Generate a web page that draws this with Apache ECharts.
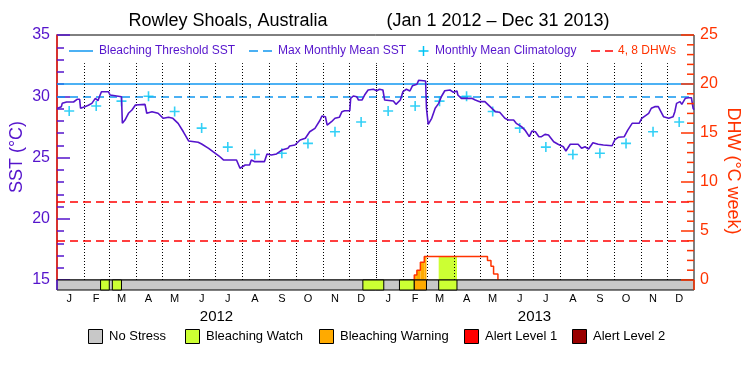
<!DOCTYPE html>
<html>
<head>
<meta charset="utf-8">
<script src="https://cdn.jsdelivr.net/npm/echarts@6/dist/echarts.min.js"></script>
<style>
  html, body { margin: 0; background: #fff; }
  #chart { width: 750px; height: 375px; }
</style>
</head>
<body>
<div id="chart"></div>
<script>
// months Jan 2012 .. Dec 2013 (x axis is in days from Jan 1 2012)
const monthLetters = ['J', 'F', 'M', 'A', 'M', 'J', 'J', 'A', 'S', 'O', 'N', 'D'];
const monthLengths = [31, 29, 31, 30, 31, 30, 31, 31, 30, 31, 30, 31,
                      31, 28, 31, 30, 31, 30, 31, 31, 30, 31, 30, 31];
const yearLabels = ['2012', '2013'];

// daily SST
const sstDays = [0, 5, 6, 11, 19, 23, 26, 27, 32, 36, 40, 44, 47, 49, 51, 59, 61, 63, 74, 75,
  78, 82, 86, 90, 101, 103, 109, 116, 122, 128, 133, 139, 145, 151, 162, 166, 174, 179, 186,
  191, 206, 210, 216, 221, 223, 227, 238, 241, 246, 252, 258, 265, 267, 273, 279, 285, 290, 296,
  302, 304, 308, 310, 315, 319, 324, 327, 330, 336, 337, 340, 344, 346, 350, 353, 357, 363,
  367, 370, 374, 376, 386, 389, 394, 397, 401, 405, 408, 413, 415, 423, 424, 426, 430, 434,
  438, 441, 445, 451, 455, 459, 460, 464, 470, 476, 480, 485, 491, 497, 503, 508, 514, 518,
  524, 527, 533, 537, 542, 545, 549, 553, 556, 560, 564, 570, 575, 581, 584, 589, 598, 602,
  606, 610, 615, 621, 627, 637, 640, 644, 651, 655, 660, 668, 671, 679, 682, 686, 690, 693,
  696, 702, 707, 709, 711, 715, 717, 721, 725, 728, 730, 731];
const sstValues = [29.0, 29.15, 29.42, 29.53, 29.53, 29.75, 29.75, 29.02, 29.15, 29.26, 29.42,
  29.83, 29.64, 30.02, 30.37, 30.37, 30.1, 29.96, 29.96, 27.79, 28.06, 28.61, 28.88, 29.29,
  29.34, 28.61, 28.74, 28.61, 28.2, 28.28, 28.2, 27.79, 27.1, 26.35, 26.24, 26.1, 25.75, 25.48,
  25.12, 24.8, 24.8, 24.12, 24.39, 24.39, 24.8, 24.66, 24.66, 25.29, 25.2, 25.29, 25.61, 25.75,
  25.94, 26.02, 26.43, 26.57, 27.1, 27.38, 28.06, 28.39, 28.33, 27.65, 27.92, 28.2, 28.28,
  28.74, 28.82, 28.82, 29.83, 30.02, 29.96, 29.69, 29.69, 30.1, 30.51, 30.57, 30.45, 30.57,
  30.51, 29.69, 29.61, 29.34, 29.69, 30.37, 30.57, 30.43, 30.86, 30.98, 31.3, 31.24, 29.02,
  27.71, 28.2, 29.02, 29.42, 29.96, 30.45, 30.51, 30.32, 30.43, 30.1, 29.83, 29.83, 29.83,
  29.69, 29.56, 29.56, 29.15, 28.74, 28.69, 28.2, 28.06, 28.06, 27.79, 27.52, 27.24, 26.7,
  27.16, 27.1, 26.7, 26.7, 26.89, 26.84, 26.29, 26.08, 25.88, 25.53, 26.08, 26.08, 25.75,
  25.88, 25.69, 26.21, 26.08, 26.02, 25.96, 26.43, 26.65, 26.7, 27.24, 27.79, 27.79, 28.2,
  28.61, 29.02, 29.15, 29.15, 28.74, 28.33, 28.2, 28.33, 28.74, 29.42, 29.56, 29.34, 29.83,
  29.88, 29.88, 29.02, 28.9];

// monthly mean climatology, Jan..Dec
const climatology = [28.8, 29.2, 29.6, 30.0, 28.75, 27.4, 25.85, 25.25, 25.35, 26.15, 27.1, 27.9];

const bleachingThreshold = 31.0;
const maxMonthlyMean = 30.0;
const dhwLines = [4, 8];

// degree heating weeks (step values, each holds until the next day)
const dhwDays = [410, 410, 413, 417, 421.5, 494, 498, 501, 506];
const dhwValues = [0, 0.5, 1.0, 1.8, 2.4, 2.0, 1.4, 0.6, 0];

// stress level bar: first entry is the whole range
const stressStart = [0, 50, 63.5, 351, 393, 410, 438];
const stressEnd = [731, 60, 74, 375, 410, 424, 459];
const stressLevel = [0, 1, 1, 1, 1, 2, 1];

const stressNames = ['No Stress', 'Bleaching Watch', 'Bleaching Warning', 'Alert Level 1', 'Alert Level 2'];
const stressColors = ['#c8c8c8', '#ccff33', '#ffaa00', '#ff0000', '#990000'];

const purple = '#5514cc';
const orange = '#ff3300';
const blue = '#1197f0';
const cyan = '#00c4f4';
const FONT = '"Liberation Sans", Arial, sans-serif';

const monthStarts = [];
let acc = 0;
monthLengths.forEach(n => { monthStarts.push(acc); acc += n; });
const totalDays = acc;
const monthMids = monthStarts.map(s => s + 14);
const yearMids = [183, 548];

// tick values of the DHW axis (every 1, long every 5)
const dhwTicks = [];
for (let v = 0; v <= 25; v++) dhwTicks.push([v]);

function nearestIndex(arr, v) {
  let best = 0;
  arr.forEach((a, i) => { if (Math.abs(a - v) < Math.abs(arr[best] - v)) best = i; });
  return best;
}

function dhwAt(d) {
  let v = 0;
  for (let i = 0; i < dhwDays.length; i++) if (dhwDays[i] <= d) v = dhwValues[i];
  return v;
}

const chart = echarts.init(document.getElementById('chart'));

const sstData = sstDays.map((d, i) => [d, sstValues[i]]);
const climData = monthMids.map((d, i) => [d, climatology[i % 12]]);
const dhwData = dhwDays.map((d, i) => [d, dhwValues[i]]);
const stressData = stressStart.map((s, i) => [s, stressEnd[i], stressLevel[i]]);
const fillData = stressData.filter(s => s[2] > 0);

const monthLines = monthStarts.slice(1).map((d, i) => [
  { coord: [d, 15], lineStyle: { color: '#000', width: 1, type: i === 11 ? [1, 1] : [1, 2] } },
  { coord: [d, 32.7] }
]);

function renderStress(params, api) {
  const a = api.coord([api.value(0), 15]);
  const b = api.coord([api.value(1), 15]);
  const lvl = api.value(2);
  const children = [{
    type: 'rect',
    shape: { x: a[0], y: a[1], width: b[0] - a[0], height: 10 },
    style: { fill: stressColors[lvl], stroke: '#000', lineWidth: 1 }
  }];
  if (params.dataIndex === 0) {
    children.push({ type: 'line', shape: { x1: a[0], y1: a[1], x2: a[0], y2: a[1] + 10 }, style: { stroke: purple, lineWidth: 1.5 } });
    children.push({ type: 'line', shape: { x1: b[0], y1: b[1], x2: b[0], y2: b[1] + 10 }, style: { stroke: orange, lineWidth: 1.5 } });
  }
  return { type: 'group', children };
}

function renderFill(params, api) {
  const a = api.value(0), b = api.value(1), lvl = api.value(2);
  const cuts = [a].concat(dhwDays.filter(d => d > a && d < b), [b]);
  const children = [];
  for (let i = 0; i < cuts.length - 1; i++) {
    const v = dhwAt(cuts[i]);
    if (v <= 0) continue;
    const p0 = api.coord([cuts[i], v]);
    const p1 = api.coord([cuts[i + 1], 0]);
    children.push({
      type: 'rect',
      shape: { x: p0[0], y: p0[1], width: p1[0] - p0[0], height: p1[1] - p0[1] },
      style: { fill: stressColors[lvl] }
    });
  }
  return { type: 'group', children };
}

// inside ticks of the right axis
function renderRightTick(params, api) {
  const v = api.value(0);
  const p = api.coord([totalDays, v]);
  const len = v % 5 === 0 ? 13 : 7;
  return {
    type: 'line',
    shape: { x1: p[0] - len, y1: p[1], x2: p[0], y2: p[1] },
    style: { stroke: orange, lineWidth: 1.5 }
  };
}

const txt = (x, y, text, color, size, extra) => Object.assign({
  type: 'text', x, y,
  style: { text, fill: color, font: size + 'px ' + FONT, align: 'left', verticalAlign: 'middle' }
}, extra || {});
const seg = (x1, y1, x2, y2, color, dash) => ({
  type: 'line', shape: { x1, y1, x2, y2 },
  style: { stroke: color, lineWidth: 1.5, lineDash: dash || null }
});

const legendY = 51;
const bottomY = 336;
const boxX = [88, 185, 319, 464, 572];

const graphic = [
  txt(228, 21, 'Rowley Shoals, Australia', '#000', 18, {}),
  txt(498, 21, '(Jan 1 2012 – Dec 31 2013)', '#000', 18, {}),
  seg(69, legendY, 93, legendY, blue),
  txt(99, legendY, 'Bleaching Threshold SST', purple, 12),
  seg(249, legendY, 272, legendY, blue, [9, 5]),
  txt(278, legendY, 'Max Monthly Mean SST', purple, 12),
  seg(418.5, legendY, 428.5, legendY, cyan),
  seg(423.5, legendY - 5, 423.5, legendY + 5, cyan),
  txt(435, legendY, 'Monthly Mean Climatology', purple, 12),
  seg(591, legendY, 613, legendY, '#ff0000', [9, 5]),
  txt(618, legendY, '4, 8 DHWs', orange, 12),
  txt(17, 157, 'SST (°C)', purple, 18, { rotation: Math.PI / 2 }),
  txt(733, 171, 'DHW (°C week)', orange, 18, { rotation: -Math.PI / 2 })
];
graphic[0].style.align = 'center';
graphic[1].style.align = 'center';
graphic[graphic.length - 2].style.align = 'center';
graphic[graphic.length - 1].style.align = 'center';

stressNames.forEach((name, i) => {
  graphic.push({
    type: 'rect', shape: { x: boxX[i] + 0.5, y: bottomY - 7 + 0.5, width: 14, height: 14 },
    style: { fill: stressColors[i], stroke: '#000', lineWidth: 1 }
  });
  graphic.push(txt(boxX[i] + 21, bottomY, name, '#000', 13));
});

chart.setOption({
  animation: false,
  backgroundColor: '#fff',
  textStyle: { fontFamily: FONT },
  grid: { left: 57, right: 56, top: 35, bottom: 95, show: true, borderColor: '#000', borderWidth: 1 },
  xAxis: [
    {
      type: 'value', min: 0, max: totalDays,
      axisLine: { show: false }, axisTick: { show: false }, splitLine: { show: false },
      axisLabel: {
        customValues: monthMids, margin: 13, fontSize: 11, color: '#000',
        formatter: v => monthLetters[nearestIndex(monthMids, v) % 12]
      }
    },
    {
      type: 'value', min: 0, max: totalDays, position: 'bottom',
      axisLine: { show: false }, axisTick: { show: false }, splitLine: { show: false },
      axisLabel: {
        customValues: yearMids, margin: 29, fontSize: 15, color: '#000',
        formatter: v => yearLabels[nearestIndex(yearMids, v)]
      }
    }
  ],
  yAxis: [
    {
      type: 'value', min: 15, max: 35, interval: 5, position: 'left',
      axisLine: { show: true, lineStyle: { color: purple, width: 1.5 } },
      axisTick: { show: true, inside: true, length: 13, lineStyle: { color: purple, width: 1.5 } },
      axisLabel: { color: purple, fontSize: 16, margin: 7 },
      splitLine: { show: false }
    },
    {
      type: 'value', min: 0, max: 25, interval: 5, position: 'right',
      axisLine: { show: true, lineStyle: { color: orange, width: 1.5 } },
      axisTick: { show: false },
      axisLabel: { color: orange, fontSize: 16, margin: 6 },
      splitLine: { show: false }
    },
    {
      // short ticks of the SST axis
      type: 'value', min: 15, max: 35, interval: 1, position: 'left', offset: 0,
      axisLine: { show: false },
      axisTick: { show: true, inside: true, length: 7, lineStyle: { color: purple, width: 1.5 } },
      axisLabel: { show: false },
      splitLine: { show: false }
    }
  ],
  graphic,
  series: [
    {
      name: 'DHW fill', type: 'custom', xAxisIndex: 0, yAxisIndex: 1,
      renderItem: renderFill, data: fillData, encode: { x: [0, 1], y: 2 }, z: 1, silent: true
    },
    {
      name: 'SST', type: 'line', xAxisIndex: 0, yAxisIndex: 0, data: sstData,
      symbol: 'none', lineStyle: { color: purple, width: 1.6 }, z: 5,
      markLine: {
        silent: true, symbol: 'none', label: { show: false }, z: 2,
        data: [
          { yAxis: bleachingThreshold, lineStyle: { color: blue, width: 1.5, type: 'solid' } },
          { yAxis: maxMonthlyMean, lineStyle: { color: blue, width: 1.5, type: [8, 5] } }
        ].concat(monthLines)
      }
    },
    {
      name: 'Climatology', type: 'scatter', xAxisIndex: 0, yAxisIndex: 0, data: climData,
      symbol: 'path://M4.2,0h1.6v10h-1.6zM0,4.2h10v1.6h-10z', symbolSize: 10,
      itemStyle: { color: cyan }, z: 4
    },
    {
      name: 'DHW', type: 'line', xAxisIndex: 0, yAxisIndex: 1, data: dhwData, step: 'end',
      symbol: 'none', lineStyle: { color: orange, width: 1.5 }, z: 3,
      markLine: {
        silent: true, symbol: 'none', label: { show: false },
        data: dhwLines.map(v => ({ yAxis: v, lineStyle: { color: '#ff0000', width: 1.5, type: [8, 5] } }))
      }
    },
    {
      name: 'DHW ticks', type: 'custom', xAxisIndex: 0, yAxisIndex: 1, clip: false,
      renderItem: renderRightTick, data: dhwTicks, encode: { y: 0 }, z: 7, silent: true
    },
    {
      name: 'Stress', type: 'custom', xAxisIndex: 0, yAxisIndex: 0, clip: false,
      renderItem: renderStress, data: stressData, encode: { x: [0, 1], y: 2 }, z: 6, silent: true
    }
  ]
});
</script>
</body>
</html>
